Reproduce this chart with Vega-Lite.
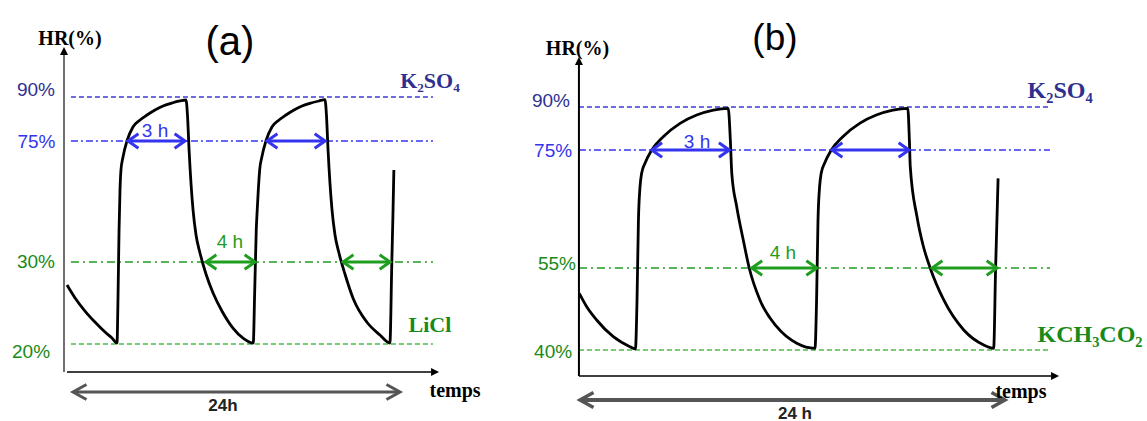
{
  "$schema": "https://vega.github.io/schema/vega-lite/v6.json",
  "padding": 0,
  "spacing": 13,
  "background": "white",
  "config": {"view": {"stroke": null}},
  "resolve": {"scale": {"x": "independent", "y": "independent"}},
  "datasets": {
    "curveA": [
      {"t": -0.44, "hr": 27.19}, {"t": 0.15, "hr": 25.61}, {"t": 0.88, "hr": 24.02}, {"t": 1.61, "hr": 22.68}, {"t": 2.35, "hr": 21.46}, {"t": 2.86, "hr": 20.73}, {"t": 3.23, "hr": 20.12},
      {"t": 3.3, "hr": 25.37}, {"t": 3.38, "hr": 41.9}, {"t": 3.45, "hr": 56.78}, {"t": 3.52, "hr": 64.21}, {"t": 3.67, "hr": 69.05}, {"t": 3.96, "hr": 75},
      {"t": 4.4, "hr": 79.77}, {"t": 4.92, "hr": 82.16}, {"t": 5.43, "hr": 83.86}, {"t": 6.02, "hr": 85.57}, {"t": 6.61, "hr": 86.93}, {"t": 7.27, "hr": 87.95},
      {"t": 7.85, "hr": 88.64}, {"t": 8.29, "hr": 88.98},
      {"t": 8.4, "hr": 84.0}, {"t": 8.52, "hr": 71.65}, {"t": 8.81, "hr": 49.34}, {"t": 9.03, "hr": 40.04}, {"t": 9.32, "hr": 33.35}, {"t": 9.76, "hr": 28.54},
      {"t": 10.28, "hr": 26.22}, {"t": 10.94, "hr": 24.0}, {"t": 11.74, "hr": 21.95}, {"t": 12.48, "hr": 20.73}, {"t": 13.23, "hr": 20.12},
      {"t": 13.33, "hr": 26.0}, {"t": 13.45, "hr": 41.9}, {"t": 13.52, "hr": 49.34}, {"t": 13.6, "hr": 56.78}, {"t": 13.7, "hr": 64.21}, {"t": 13.86, "hr": 69.05},
      {"t": 14.16, "hr": 75}, {"t": 14.6, "hr": 79.77}, {"t": 15.12, "hr": 82.16}, {"t": 15.63, "hr": 83.86}, {"t": 16.22, "hr": 85.57}, {"t": 16.81, "hr": 86.93},
      {"t": 17.47, "hr": 87.95}, {"t": 18.05, "hr": 88.64}, {"t": 18.49, "hr": 89.1},
      {"t": 18.6, "hr": 84.0}, {"t": 18.72, "hr": 71.65}, {"t": 19.01, "hr": 49.34}, {"t": 19.23, "hr": 40.04}, {"t": 19.52, "hr": 33.35}, {"t": 19.96, "hr": 28.54},
      {"t": 20.57, "hr": 25.52}, {"t": 21.56, "hr": 22.68}, {"t": 22.53, "hr": 21.1}, {"t": 23.26, "hr": 20.12},
      {"t": 23.4, "hr": 30.0}, {"t": 23.49, "hr": 49.34}, {"t": 23.55, "hr": 64.21}
    ],
    "curveB": [
      {"t": -0.04, "hr": 50.37}, {"t": 0.38, "hr": 47.92}, {"t": 0.94, "hr": 45.49}, {"t": 1.88, "hr": 42.43}, {"t": 2.82, "hr": 40.61}, {"t": 3.13, "hr": 40.19},
      {"t": 3.22, "hr": 49.15}, {"t": 3.3, "hr": 63.13}, {"t": 3.39, "hr": 68.78}, {"t": 3.48, "hr": 71.05}, {"t": 3.67, "hr": 72.75}, {"t": 4.05, "hr": 75},
      {"t": 4.7, "hr": 79.64}, {"t": 5.65, "hr": 84.31}, {"t": 6.59, "hr": 87.21}, {"t": 7.53, "hr": 88.95}, {"t": 8.37, "hr": 89.55},
      {"t": 8.49, "hr": 78.5}, {"t": 8.57, "hr": 71.1}, {"t": 8.85, "hr": 65.39}, {"t": 9.22, "hr": 59.75}, {"t": 9.56, "hr": 54.95}, {"t": 10.16, "hr": 49.15},
      {"t": 11.11, "hr": 44.26}, {"t": 12.24, "hr": 41.23}, {"t": 13.27, "hr": 40.31},
      {"t": 13.36, "hr": 49.15}, {"t": 13.44, "hr": 63.13}, {"t": 13.53, "hr": 68.78}, {"t": 13.62, "hr": 71.05}, {"t": 13.81, "hr": 72.75}, {"t": 14.19, "hr": 75},
      {"t": 14.84, "hr": 79.64}, {"t": 15.79, "hr": 84.31}, {"t": 16.73, "hr": 87.21}, {"t": 17.67, "hr": 88.95}, {"t": 18.51, "hr": 89.55},
      {"t": 18.6, "hr": 78.5}, {"t": 18.65, "hr": 72.17}, {"t": 19.03, "hr": 63.69}, {"t": 19.37, "hr": 58.9}, {"t": 19.78, "hr": 54.95}, {"t": 20.54, "hr": 49.15},
      {"t": 21.67, "hr": 43.66}, {"t": 22.8, "hr": 40.92}, {"t": 23.36, "hr": 40.31},
      {"t": 23.47, "hr": 55.0}, {"t": 23.61, "hr": 70.2}
    ],
    "levelsA": [
      {"t": -0.15, "t2": 26.42, "hr": 90, "role": "humid level"},
      {"t": -0.15, "t2": 26.42, "hr": 75, "role": "humid threshold"},
      {"t": -0.15, "t2": 26.42, "hr": 30, "role": "dry threshold"},
      {"t": -0.15, "t2": 26.42, "hr": 20, "role": "dry level"}
    ],
    "levelsB": [
      {"t": -0.06, "t2": 26.54, "hr": 90, "role": "humid level"},
      {"t": -0.06, "t2": 26.54, "hr": 75, "role": "humid threshold"},
      {"t": -0.06, "t2": 26.54, "hr": 55, "role": "dry threshold"},
      {"t": -0.06, "t2": 26.54, "hr": 40, "role": "dry level"}
    ],
    "pctA": [
      {"t": -2.72, "hr": 90.44, "label": "90%", "role": "humid salt"},
      {"t": -2.68, "hr": 72.5, "label": "75%", "role": "humid threshold"},
      {"t": -2.72, "hr": 29.23, "label": "30%", "role": "dry salt"},
      {"t": -3.08, "hr": 18.26, "label": "20%", "role": "dry salt"}
    ],
    "pctB": [
      {"t": -1.64, "hr": 89.89, "label": "90%", "role": "humid salt"},
      {"t": -1.52, "hr": 73.76, "label": "75%", "role": "humid threshold"},
      {"t": -1.3, "hr": 54.63, "label": "55%", "role": "dry salt"},
      {"t": -1.52, "hr": 38.48, "label": "40%", "role": "dry salt"}
    ],
    "dimA": [
      {"t": 4.04, "t2": 8.22, "hr": 75, "role": "humid threshold"},
      {"t": 14.24, "t2": 18.5, "hr": 75, "role": "humid threshold"},
      {"t": 9.76, "t2": 13.36, "hr": 30, "role": "dry threshold"},
      {"t": 19.82, "t2": 23.27, "hr": 30, "role": "dry threshold"}
    ],
    "dimB": [
      {"t": 4.05, "t2": 8.43, "hr": 75, "role": "humid threshold"},
      {"t": 14.23, "t2": 18.58, "hr": 75, "role": "humid threshold"},
      {"t": 9.7, "t2": 13.37, "hr": 55, "role": "dry threshold"},
      {"t": 19.88, "t2": 23.55, "hr": 55, "role": "dry threshold"}
    ],
    "dimLabelsA": [
      {"t": 6.02, "hr": 76.26, "label": "3 h", "role": "humid threshold"},
      {"t": 11.52, "hr": 35.1, "label": "4 h", "role": "dry threshold"}
    ],
    "dimLabelsB": [
      {"t": 6.61, "hr": 75.8, "label": "3 h", "role": "humid threshold"},
      {"t": 11.46, "hr": 56.47, "label": "4 h", "role": "dry threshold"}
    ],
    "saltA": [
      {"t": 26.2, "hr": 93.07, "label": "K₂SO₄", "role": "humid salt"},
      {"t": 26.2, "hr": 21.5, "label": "LiCl", "role": "dry salt"}
    ],
    "saltB": [
      {"t": 27.11, "hr": 93.03, "label": "K₂SO₄", "role": "humid salt"},
      {"t": 28.8, "hr": 41.52, "label": "KCH₃CO₂", "role": "dry salt"}
    ],
    "axesA": [
      {"element": "HR axis", "t": -0.66, "t2": -0.66, "hr": 16.59, "hr2": 104.32},
      {"element": "time axis", "t": -0.44, "t2": 26.28, "hr": 16.59, "hr2": 16.59},
      {"element": "24 h span", "t": 0, "t2": 24, "hr": 14.15, "hr2": 14.15}
    ],
    "axesB": [
      {"element": "HR axis", "t": -0.06, "t2": -0.06, "hr": 35.24, "hr2": 104.65},
      {"element": "time axis", "t": -0.06, "t2": 26.6, "hr": 35.24, "hr2": 35.24},
      {"element": "24 h span", "t": 0, "t2": 24, "hr": 30.85, "hr2": 30.85}
    ],
    "notesA": [
      {"t": -0.22, "hr": 107.73, "label": "HR(%)"},
      {"t": 28.04, "hr": 13.5, "label": "temps"},
      {"t": 11.0, "hr": 11.83, "label": "24h"},
      {"t": 11.52, "hr": 104.32, "label": "(a)"}
    ],
    "notesB": [
      {"t": -0.14, "hr": 108.14, "label": "HR(%)"},
      {"t": 24.9, "hr": 31.22, "label": "temps"},
      {"t": 12.14, "hr": 27.45, "label": "24 h"},
      {"t": 11.01, "hr": 109.88, "label": "(b)"}
    ]
  },
  "hconcat": [
    {
      "width": 517,
      "height": 421,
      "encoding": {
        "x": {"field": "t", "type": "quantitative", "axis": null, "scale": {"domain": [0, 24], "range": [73, 400], "nice": false, "zero": false}},
        "y": {"field": "hr", "type": "quantitative", "axis": null, "scale": {"domain": [20, 30, 75, 90], "range": [344, 262, 141, 97], "nice": false, "zero": false}}
      },
      "layer": [
        {
          "data": {"name": "levelsA"},
          "mark": {"type": "rule", "strokeWidth": 1.6},
          "encoding": {
            "x2": {"field": "t2"},
            "color": {"field": "role", "type": "nominal", "legend": null, "scale": {"domain": ["humid salt", "humid level", "humid threshold", "dry threshold", "dry salt", "dry level"], "range": ["#2f2f90", "#3c3cd6", "#3434f0", "#1f9d1f", "#178a17", "#4cb84c"]}},
            "strokeDash": {"field": "role", "type": "nominal", "legend": null, "scale": {"domain": ["humid level", "humid threshold", "dry threshold", "dry level"], "range": [[5, 3], [7, 3, 2, 3], [8, 4, 2, 4], [5, 3]]}}
          }
        },
        {
          "data": {"name": "curveA"},
          "mark": {"type": "line", "interpolate": "monotone", "color": "#000000", "strokeWidth": 2.8}
        },
        {
          "data": {"name": "dimA"},
          "mark": {"type": "rule", "strokeWidth": 3},
          "encoding": {
            "x2": {"field": "t2"},
            "color": {"field": "role", "type": "nominal", "legend": null, "scale": {"domain": ["humid salt", "humid level", "humid threshold", "dry threshold", "dry salt", "dry level"], "range": ["#2f2f90", "#3c3cd6", "#3434f0", "#1f9d1f", "#178a17", "#4cb84c"]}}
          }
        },
        {
          "data": {"name": "dimA"},
          "mark": {"type": "point", "shape": "M1.6,-1.1L0,0L1.6,1.1", "filled": false, "size": 169, "strokeWidth": 3, "opacity": 1},
          "encoding": {
            "color": {"field": "role", "type": "nominal", "legend": null, "scale": {"domain": ["humid salt", "humid level", "humid threshold", "dry threshold", "dry salt", "dry level"], "range": ["#2f2f90", "#3c3cd6", "#3434f0", "#1f9d1f", "#178a17", "#4cb84c"]}}
          }
        },
        {
          "data": {"name": "dimA"},
          "mark": {"type": "point", "shape": "M-1.6,-1.1L0,0L-1.6,1.1", "filled": false, "size": 169, "strokeWidth": 3, "opacity": 1},
          "encoding": {
            "x": {"field": "t2", "type": "quantitative", "axis": null, "scale": {"domain": [0, 24], "range": [73, 400], "nice": false, "zero": false}},
            "color": {"field": "role", "type": "nominal", "legend": null, "scale": {"domain": ["humid salt", "humid level", "humid threshold", "dry threshold", "dry salt", "dry level"], "range": ["#2f2f90", "#3c3cd6", "#3434f0", "#1f9d1f", "#178a17", "#4cb84c"]}}
          }
        },
        {
          "data": {"name": "dimLabelsA"},
          "mark": {"type": "text", "font": "Liberation Sans", "fontSize": 19, "align": "center", "baseline": "alphabetic"},
          "encoding": {
            "text": {"field": "label"},
            "color": {"field": "role", "type": "nominal", "legend": null, "scale": {"domain": ["humid salt", "humid level", "humid threshold", "dry threshold", "dry salt", "dry level"], "range": ["#2f2f90", "#3c3cd6", "#3434f0", "#1f9d1f", "#178a17", "#4cb84c"]}}
          }
        },
        {
          "data": {"name": "pctA"},
          "mark": {"type": "text", "font": "Liberation Sans", "fontSize": 19, "align": "center", "baseline": "alphabetic"},
          "encoding": {
            "text": {"field": "label"},
            "color": {"field": "role", "type": "nominal", "legend": null, "scale": {"domain": ["humid salt", "humid level", "humid threshold", "dry threshold", "dry salt", "dry level"], "range": ["#2f2f90", "#3c3cd6", "#3434f0", "#1f9d1f", "#178a17", "#4cb84c"]}}
          }
        },
        {
          "data": {"name": "saltA"},
          "mark": {"type": "text", "font": "Liberation Serif", "fontWeight": "bold", "fontSize": 22, "align": "center", "baseline": "alphabetic"},
          "encoding": {
            "text": {"field": "label"},
            "color": {"field": "role", "type": "nominal", "legend": null, "scale": {"domain": ["humid salt", "humid level", "humid threshold", "dry threshold", "dry salt", "dry level"], "range": ["#2f2f90", "#3c3cd6", "#3434f0", "#1f9d1f", "#178a17", "#4cb84c"]}}
          }
        },
        {
          "data": {"name": "axesA"},
          "transform": [{"filter": "datum.element === 'HR axis'"}],
          "mark": {"type": "rule", "color": "#707070", "strokeWidth": 2},
          "encoding": {"y2": {"field": "hr2"}}
        },
        {
          "data": {"name": "axesA"},
          "transform": [{"filter": "datum.element === 'HR axis'"}],
          "mark": {"type": "point", "shape": "M-1,0L0,-2L1,0Z", "filled": true, "size": 64, "color": "#000000", "opacity": 1},
          "encoding": {"y": {"field": "hr2", "type": "quantitative", "axis": null, "scale": {"domain": [20, 30, 75, 90], "range": [344, 262, 141, 97], "nice": false, "zero": false}}}
        },
        {
          "data": {"name": "axesA"},
          "transform": [{"filter": "datum.element === 'time axis'"}],
          "mark": {"type": "rule", "color": "#000000", "strokeWidth": 1.6},
          "encoding": {"x2": {"field": "t2"}}
        },
        {
          "data": {"name": "axesA"},
          "transform": [{"filter": "datum.element === 'time axis'"}],
          "mark": {"type": "point", "shape": "M0,-1L2,0L0,1Z", "filled": true, "size": 64, "color": "#000000", "opacity": 1},
          "encoding": {"x": {"field": "t2", "type": "quantitative", "axis": null, "scale": {"domain": [0, 24], "range": [73, 400], "nice": false, "zero": false}}}
        },
        {
          "data": {"name": "axesA"},
          "transform": [{"filter": "datum.element === '24 h span'"}],
          "mark": {"type": "rule", "color": "#555555", "strokeWidth": 3},
          "encoding": {"x2": {"field": "t2"}}
        },
        {
          "data": {"name": "axesA"},
          "transform": [{"filter": "datum.element === '24 h span'"}],
          "mark": {"type": "point", "shape": "M1.8,-1L0,0L1.8,1", "filled": false, "size": 225, "strokeWidth": 3, "color": "#555555", "opacity": 1}
        },
        {
          "data": {"name": "axesA"},
          "transform": [{"filter": "datum.element === '24 h span'"}],
          "mark": {"type": "point", "shape": "M-1.8,-1L0,0L-1.8,1", "filled": false, "size": 225, "strokeWidth": 3, "color": "#555555", "opacity": 1},
          "encoding": {"x": {"field": "t2", "type": "quantitative", "axis": null, "scale": {"domain": [0, 24], "range": [73, 400], "nice": false, "zero": false}}}
        },
        {
          "data": {"name": "notesA"},
          "transform": [{"filter": "datum.label === 'HR(%)' || datum.label === 'temps'"}],
          "mark": {"type": "text", "font": "Liberation Serif", "fontWeight": "bold", "fontSize": 20, "align": "center", "baseline": "alphabetic", "color": "#000000"},
          "encoding": {"text": {"field": "label"}}
        },
        {
          "data": {"name": "notesA"},
          "transform": [{"filter": "datum.label === '24h'"}],
          "mark": {"type": "text", "font": "Liberation Sans", "fontWeight": "bold", "fontSize": 17, "align": "center", "baseline": "alphabetic", "color": "#222222"},
          "encoding": {"text": {"field": "label"}}
        },
        {
          "data": {"name": "notesA"},
          "transform": [{"filter": "datum.label === '(a)'"}],
          "mark": {"type": "text", "font": "Liberation Sans", "fontSize": 40, "align": "center", "baseline": "alphabetic", "color": "#000000"},
          "encoding": {"text": {"field": "label"}}
        }
      ]
    },
    {
      "width": 617,
      "height": 421,
      "encoding": {
        "x": {"field": "t", "type": "quantitative", "axis": null, "scale": {"domain": [0, 24], "range": [50, 475], "nice": false, "zero": false}},
        "y": {"field": "hr", "type": "quantitative", "axis": null, "scale": {"domain": [40, 55, 75, 90], "range": [350, 268, 150, 107], "nice": false, "zero": false}}
      },
      "layer": [
        {
          "data": {"name": "levelsB"},
          "mark": {"type": "rule", "strokeWidth": 1.6},
          "encoding": {
            "x2": {"field": "t2"},
            "color": {"field": "role", "type": "nominal", "legend": null, "scale": {"domain": ["humid salt", "humid level", "humid threshold", "dry threshold", "dry salt", "dry level"], "range": ["#2f2f90", "#3c3cd6", "#3434f0", "#1f9d1f", "#178a17", "#4cb84c"]}},
            "strokeDash": {"field": "role", "type": "nominal", "legend": null, "scale": {"domain": ["humid level", "humid threshold", "dry threshold", "dry level"], "range": [[5, 3], [7, 3, 2, 3], [8, 4, 2, 4], [5, 3]]}}
          }
        },
        {
          "data": {"name": "curveB"},
          "mark": {"type": "line", "interpolate": "monotone", "color": "#000000", "strokeWidth": 2.8}
        },
        {
          "data": {"name": "dimB"},
          "mark": {"type": "rule", "strokeWidth": 3},
          "encoding": {
            "x2": {"field": "t2"},
            "color": {"field": "role", "type": "nominal", "legend": null, "scale": {"domain": ["humid salt", "humid level", "humid threshold", "dry threshold", "dry salt", "dry level"], "range": ["#2f2f90", "#3c3cd6", "#3434f0", "#1f9d1f", "#178a17", "#4cb84c"]}}
          }
        },
        {
          "data": {"name": "dimB"},
          "mark": {"type": "point", "shape": "M1.6,-1.1L0,0L1.6,1.1", "filled": false, "size": 169, "strokeWidth": 3, "opacity": 1},
          "encoding": {
            "color": {"field": "role", "type": "nominal", "legend": null, "scale": {"domain": ["humid salt", "humid level", "humid threshold", "dry threshold", "dry salt", "dry level"], "range": ["#2f2f90", "#3c3cd6", "#3434f0", "#1f9d1f", "#178a17", "#4cb84c"]}}
          }
        },
        {
          "data": {"name": "dimB"},
          "mark": {"type": "point", "shape": "M-1.6,-1.1L0,0L-1.6,1.1", "filled": false, "size": 169, "strokeWidth": 3, "opacity": 1},
          "encoding": {
            "x": {"field": "t2", "type": "quantitative", "axis": null, "scale": {"domain": [0, 24], "range": [50, 475], "nice": false, "zero": false}},
            "color": {"field": "role", "type": "nominal", "legend": null, "scale": {"domain": ["humid salt", "humid level", "humid threshold", "dry threshold", "dry salt", "dry level"], "range": ["#2f2f90", "#3c3cd6", "#3434f0", "#1f9d1f", "#178a17", "#4cb84c"]}}
          }
        },
        {
          "data": {"name": "dimLabelsB"},
          "mark": {"type": "text", "font": "Liberation Sans", "fontSize": 19, "align": "center", "baseline": "alphabetic"},
          "encoding": {
            "text": {"field": "label"},
            "color": {"field": "role", "type": "nominal", "legend": null, "scale": {"domain": ["humid salt", "humid level", "humid threshold", "dry threshold", "dry salt", "dry level"], "range": ["#2f2f90", "#3c3cd6", "#3434f0", "#1f9d1f", "#178a17", "#4cb84c"]}}
          }
        },
        {
          "data": {"name": "pctB"},
          "mark": {"type": "text", "font": "Liberation Sans", "fontSize": 19, "align": "center", "baseline": "alphabetic"},
          "encoding": {
            "text": {"field": "label"},
            "color": {"field": "role", "type": "nominal", "legend": null, "scale": {"domain": ["humid salt", "humid level", "humid threshold", "dry threshold", "dry salt", "dry level"], "range": ["#2f2f90", "#3c3cd6", "#3434f0", "#1f9d1f", "#178a17", "#4cb84c"]}}
          }
        },
        {
          "data": {"name": "saltB"},
          "mark": {"type": "text", "font": "Liberation Serif", "fontWeight": "bold", "fontSize": 24, "align": "center", "baseline": "alphabetic"},
          "encoding": {
            "text": {"field": "label"},
            "color": {"field": "role", "type": "nominal", "legend": null, "scale": {"domain": ["humid salt", "humid level", "humid threshold", "dry threshold", "dry salt", "dry level"], "range": ["#2f2f90", "#3c3cd6", "#3434f0", "#1f9d1f", "#178a17", "#4cb84c"]}}
          }
        },
        {
          "data": {"name": "axesB"},
          "transform": [{"filter": "datum.element === 'HR axis'"}],
          "mark": {"type": "rule", "color": "#000000", "strokeWidth": 2},
          "encoding": {"y2": {"field": "hr2"}}
        },
        {
          "data": {"name": "axesB"},
          "transform": [{"filter": "datum.element === 'HR axis'"}],
          "mark": {"type": "point", "shape": "M-1,0L0,-2L1,0Z", "filled": true, "size": 64, "color": "#000000", "opacity": 1},
          "encoding": {"y": {"field": "hr2", "type": "quantitative", "axis": null, "scale": {"domain": [40, 55, 75, 90], "range": [350, 268, 150, 107], "nice": false, "zero": false}}}
        },
        {
          "data": {"name": "axesB"},
          "transform": [{"filter": "datum.element === 'time axis'"}],
          "mark": {"type": "rule", "color": "#000000", "strokeWidth": 1.6},
          "encoding": {"x2": {"field": "t2"}}
        },
        {
          "data": {"name": "axesB"},
          "transform": [{"filter": "datum.element === 'time axis'"}],
          "mark": {"type": "point", "shape": "M0,-1L2,0L0,1Z", "filled": true, "size": 64, "color": "#000000", "opacity": 1},
          "encoding": {"x": {"field": "t2", "type": "quantitative", "axis": null, "scale": {"domain": [0, 24], "range": [50, 475], "nice": false, "zero": false}}}
        },
        {
          "data": {"name": "axesB"},
          "transform": [{"filter": "datum.element === '24 h span'"}],
          "mark": {"type": "rule", "color": "#555555", "strokeWidth": 4},
          "encoding": {"x2": {"field": "t2"}}
        },
        {
          "data": {"name": "axesB"},
          "transform": [{"filter": "datum.element === '24 h span'"}],
          "mark": {"type": "point", "shape": "M1.8,-1L0,0L1.8,1", "filled": false, "size": 225, "strokeWidth": 3.5, "color": "#555555", "opacity": 1}
        },
        {
          "data": {"name": "axesB"},
          "transform": [{"filter": "datum.element === '24 h span'"}],
          "mark": {"type": "point", "shape": "M-1.8,-1L0,0L-1.8,1", "filled": false, "size": 225, "strokeWidth": 3.5, "color": "#555555", "opacity": 1},
          "encoding": {"x": {"field": "t2", "type": "quantitative", "axis": null, "scale": {"domain": [0, 24], "range": [50, 475], "nice": false, "zero": false}}}
        },
        {
          "data": {"name": "notesB"},
          "transform": [{"filter": "datum.label === 'HR(%)' || datum.label === 'temps'"}],
          "mark": {"type": "text", "font": "Liberation Serif", "fontWeight": "bold", "fontSize": 20, "align": "center", "baseline": "alphabetic", "color": "#000000"},
          "encoding": {"text": {"field": "label"}}
        },
        {
          "data": {"name": "notesB"},
          "transform": [{"filter": "datum.label === '24 h'"}],
          "mark": {"type": "text", "font": "Liberation Sans", "fontWeight": "bold", "fontSize": 17, "align": "center", "baseline": "alphabetic", "color": "#222222"},
          "encoding": {"text": {"field": "label"}}
        },
        {
          "data": {"name": "notesB"},
          "transform": [{"filter": "datum.label === '(b)'"}],
          "mark": {"type": "text", "font": "Liberation Sans", "fontSize": 37, "align": "center", "baseline": "alphabetic", "color": "#000000"},
          "encoding": {"text": {"field": "label"}}
        }
      ]
    }
  ]
}
